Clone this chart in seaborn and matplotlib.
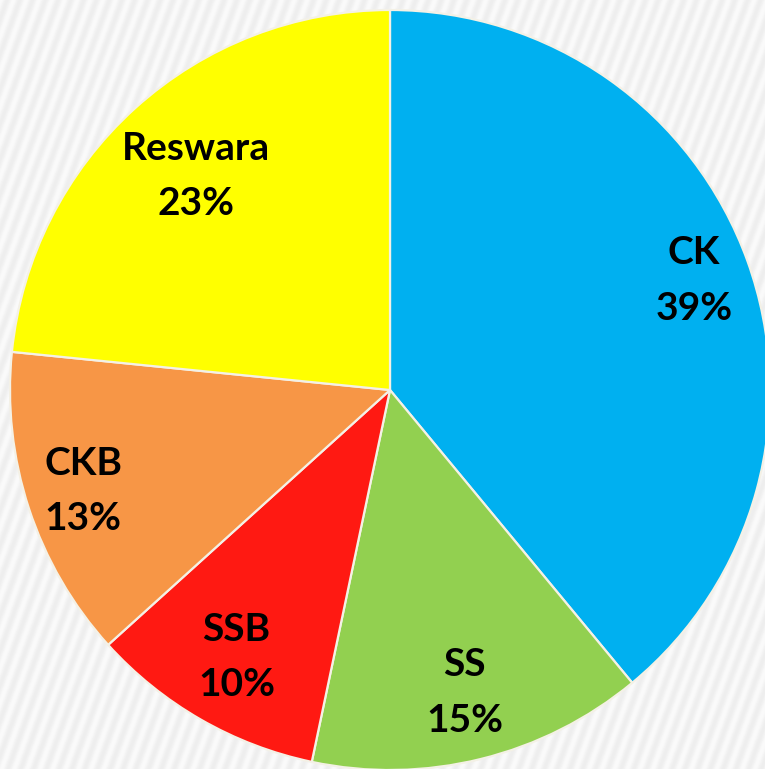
import numpy as np
import matplotlib
matplotlib.use("Agg")
import matplotlib.pyplot as plt
import seaborn as sns

# Data (shares, labels as printed)
categories = ["CK", "SS", "SSB", "CKB", "Reswara"]
shares = [39.0, 14.3, 10.0, 13.3, 23.4]
pct_labels = ["39%", "15%", "10%", "13%", "23%"]
colors = ["#00B0F0", "#92D050", "#FF1912", "#F79646", "#FFFF00"]
label_radius = [0.85, 0.82, 0.81, 0.85, 0.76]

sns.set_theme(style="white")
plt.rcParams['font.family'] = ['Lato', 'DejaVu Sans']

W, H = 765, 769
cx, cy, R = 390, 390, 380

fig = plt.figure(figsize=(W / 100, H / 100), dpi=100)

# striped background
bg = fig.add_axes([0, 0, 1, 1])
yy, xx = np.mgrid[0:H, 0:W]
ang = np.deg2rad(70)
phase = (xx * np.sin(ang) + yy * np.cos(ang)) / 12.0
tex = 0.955 + 0.025 * np.cos(2 * np.pi * phase)
bg.imshow(tex, cmap="gray", vmin=0, vmax=1, aspect="auto", interpolation="bilinear")
bg.axis("off")

ax = fig.add_axes([0, 0, 1, 1])
ax.patch.set_alpha(0)
wedges, _ = ax.pie(shares, colors=colors, startangle=90, counterclock=False,
                   radius=1, wedgeprops=dict(edgecolor="#f4f1e6", linewidth=1.6))
ax.set_aspect("auto")
ax.set_xlim(-cx / R, (W - cx) / R)
ax.set_ylim(-(H - cy) / R, cy / R)
ax.axis("off")

for w, name, pct, rr in zip(wedges, categories, pct_labels, label_radius):
    mid = np.deg2rad((w.theta1 + w.theta2) / 2)
    ax.text(rr * np.cos(mid), rr * np.sin(mid), f"{name}\n{pct}",
            ha="center", va="center", fontsize=28, fontweight="bold",
            linespacing=1.7, color="black")

fig.savefig("out.png", dpi=100)
